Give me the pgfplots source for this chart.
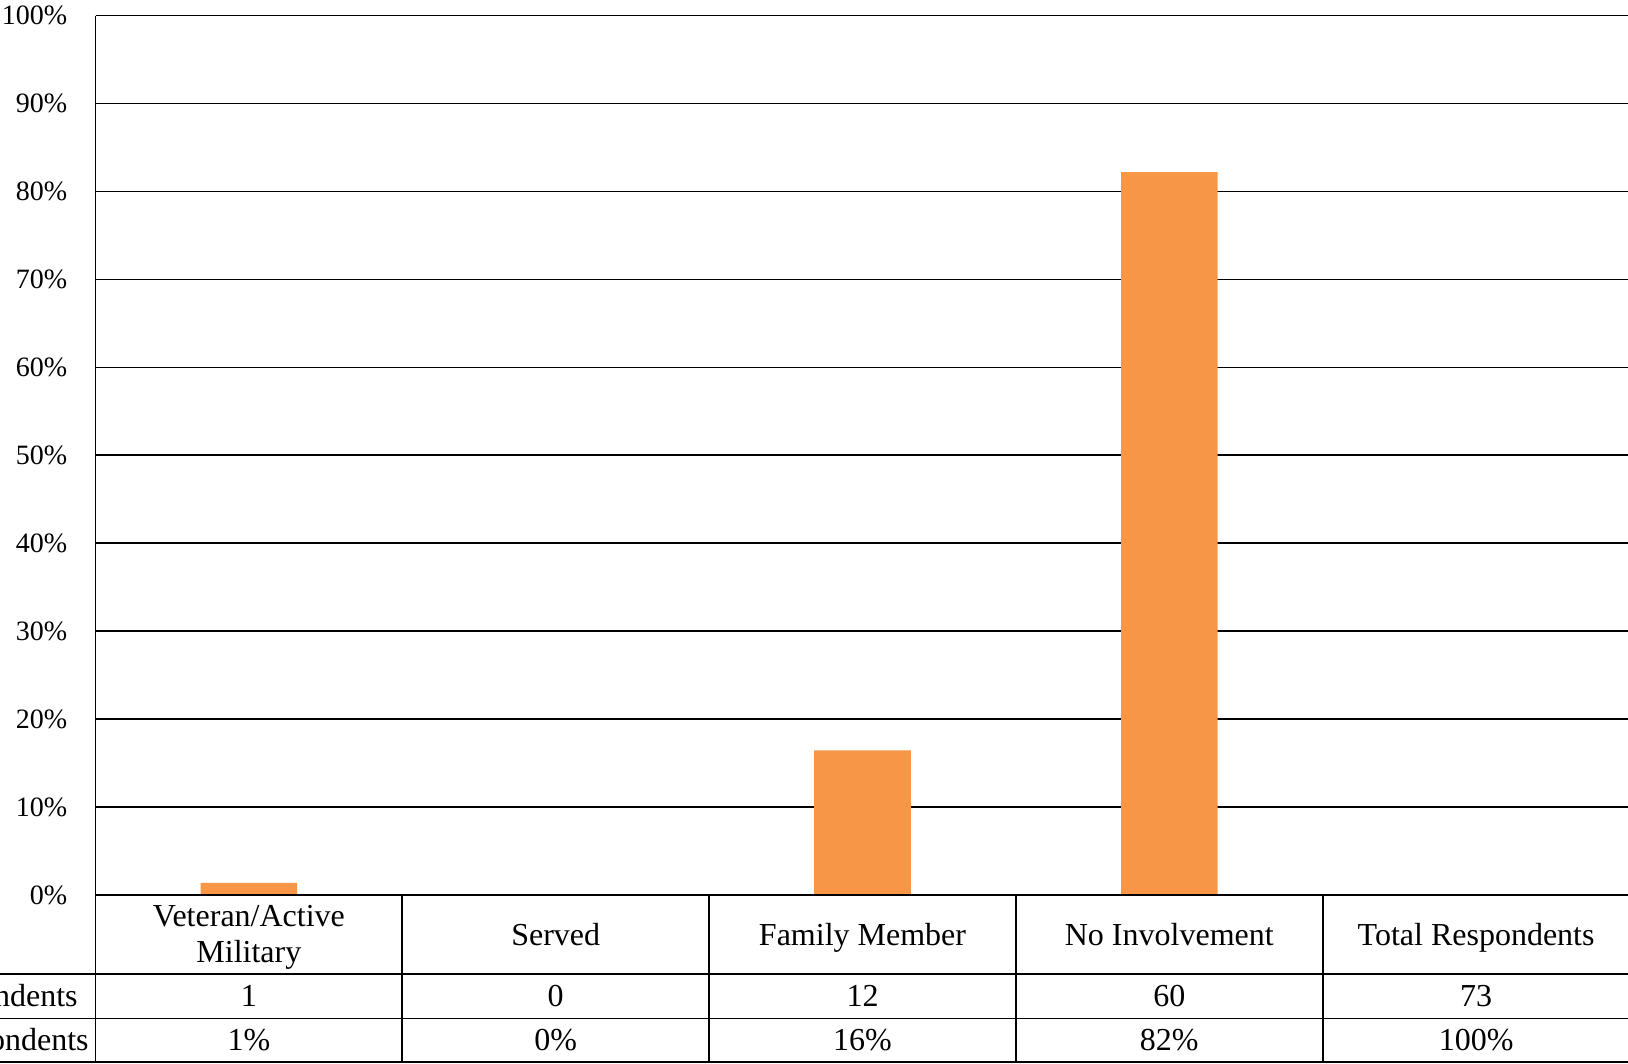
\documentclass[border=0pt]{standalone}
\usepackage{pgfplots}
\pgfplotsset{compat=1.18}
\usepackage{fontspec}
\setmainfont{Liberation Serif}
\definecolor{barorange}{HTML}{F79646}
\begin{document}
% 1 unit = 0.5pt throughout the drawing
\begin{tikzpicture}[x=0.5pt,y=0.5pt]
\useasboundingbox (0,0) rectangle (1628,1064);
\clip (0,0) rectangle (1628,1064);
\begin{axis}[
  at={(47.75pt,84.5pt)}, anchor=south west,
  scale only axis, width=767pt, height=439.7pt,
  xmin=0, xmax=5, ymin=0, ymax=100,
  axis line style={draw=none},
  xtick=\empty,
  ytick={0,10,...,100},
  yticklabels={0\%,10\%,20\%,30\%,40\%,50\%,60\%,70\%,80\%,90\%,100\%},
  major tick length=0pt,
  yticklabel style={font=\fontsize{14}{16}\selectfont, inner sep=0pt, anchor=east, xshift=-14pt},
  ymajorgrids,
  major grid style={black, line width=0.8pt},
  clip=false,
]
\addplot[ybar, bar width=48.3pt, fill=barorange, draw=none]
  coordinates {(0.5,1.37) (1.5,0) (2.5,16.44) (3.5,82.19)};
\end{axis}

% data table under the plot
\begin{scope}[line width=0.9pt, black]
  \draw (95.5,169) -- (1630,169);
  \draw (0,90) -- (1630,90);
  \draw (0,45.4) -- (1630,45.4);
  \draw (0,2) -- (1630,2);
  \draw (95.5,1048.4) -- (95.5,2);
  \foreach \xx in {402.3,709.1,1015.9,1322.7}
    \draw (\xx,169) -- (\xx,2);
\end{scope}

\begin{scope}[every node/.style={font=\fontsize{16}{19}\selectfont, inner sep=0pt}]
  % column headers
  \node[anchor=base] at (248.9,137) {Veteran/Active};
  \node[anchor=base] at (248.9,101) {Military};
  \node[anchor=base] at (555.7,118) {Served};
  \node[anchor=base] at (862.5,118) {Family Member};
  \node[anchor=base] at (1169.3,118) {No Involvement};
  \node[anchor=base] at (1476.1,118) {Total Respondents};
  % row headers
  \node[anchor=base east] at (78,57.3) {Number of Respondents};
  \node[anchor=base east] at (89,13.3) {Percent of Respondents};
  % counts
  \node[anchor=base] at (248.9,57.3) {1};
  \node[anchor=base] at (555.7,57.3) {0};
  \node[anchor=base] at (862.5,57.3) {12};
  \node[anchor=base] at (1169.3,57.3) {60};
  \node[anchor=base] at (1476.1,57.3) {73};
  % shares
  \node[anchor=base] at (248.9,13.3) {1\%};
  \node[anchor=base] at (555.7,13.3) {0\%};
  \node[anchor=base] at (862.5,13.3) {16\%};
  \node[anchor=base] at (1169.3,13.3) {82\%};
  \node[anchor=base] at (1476.1,13.3) {100\%};
\end{scope}
\end{tikzpicture}
\end{document}
